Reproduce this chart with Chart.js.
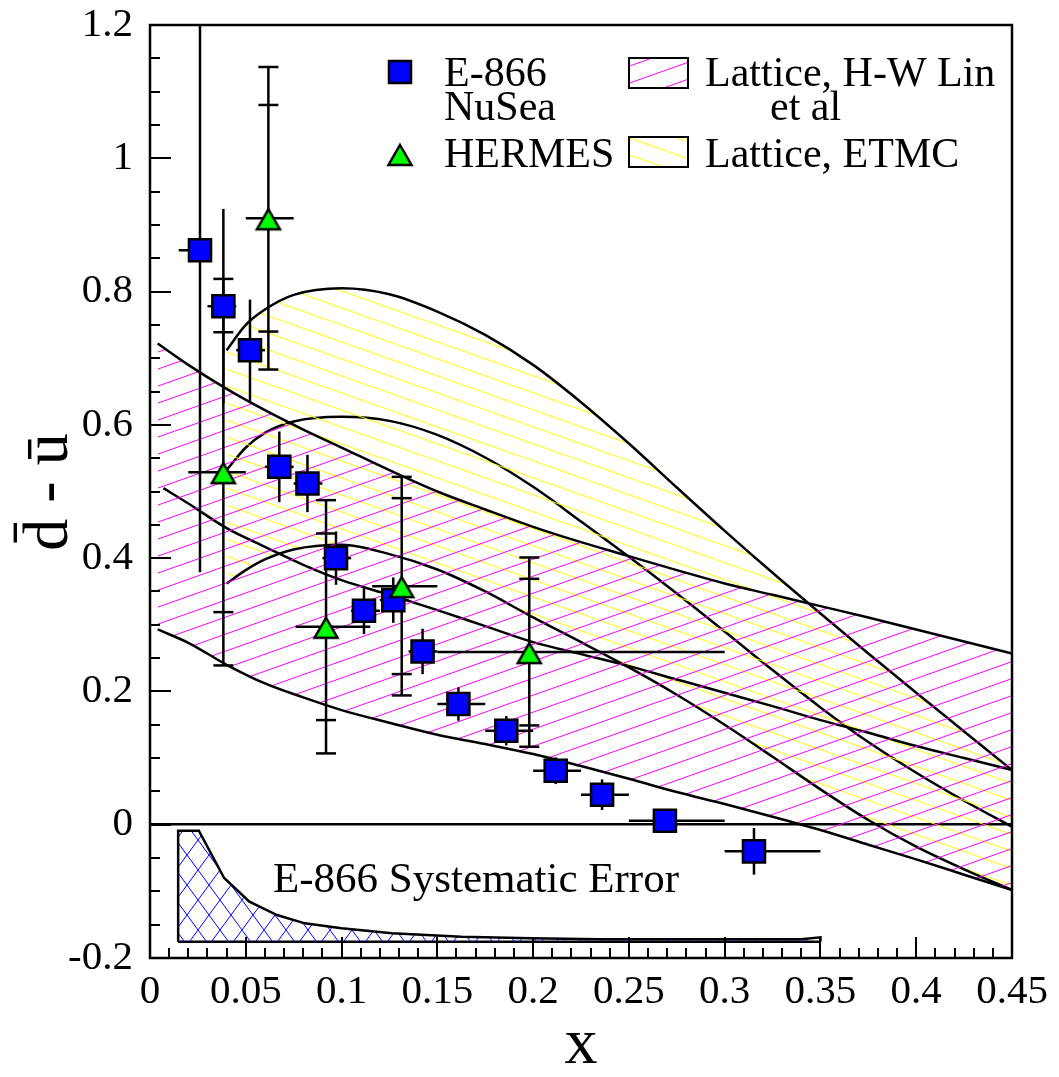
<!DOCTYPE html>
<html>
<head>
<meta charset="utf-8">
<script src="https://cdn.jsdelivr.net/npm/chart.js@4.4.1/dist/chart.umd.min.js"></script>
<style>
  html, body { margin: 0; padding: 0; background: #fff; }
  canvas { display: block; }
</style>
</head>
<body>
<canvas id="chart" width="1059" height="1077" style="width:1059px;height:1077px"></canvas>
<script>
// ---- data ----
// E-866 / NuSea points
const e866X   = [0.0261, 0.0383, 0.0522, 0.0675, 0.0822, 0.0971, 0.1117, 0.127, 0.1423, 0.161, 0.186, 0.2118, 0.236, 0.2688, 0.3153];
const e866Y   = [0.862, 0.778, 0.712, 0.537, 0.512, 0.400, 0.321, 0.337, 0.260, 0.181, 0.141, 0.081, 0.045, 0.006, -0.040];
const e866Err = [0.483, 0.146, 0.076, 0.053, 0.043, 0.040, 0.035, 0.034, 0.034, 0.025, 0.022, 0.020, 0.023, 0.017, 0.035];
const e866XLo = [0.015, 0.03, 0.045, 0.06, 0.075, 0.09, 0.105, 0.12, 0.135, 0.15, 0.175, 0.2, 0.225, 0.25, 0.3];
const e866XHi = [0.03, 0.045, 0.06, 0.075, 0.09, 0.105, 0.12, 0.135, 0.15, 0.175, 0.2, 0.225, 0.25, 0.3, 0.35];

// HERMES points (stat and total errors)
const hermesX    = [0.0383, 0.0618, 0.0919, 0.1314, 0.198];
const hermesY    = [0.529, 0.910, 0.297, 0.358, 0.259];
const hermesStat = [0.21, 0.17, 0.14, 0.132, 0.11];
const hermesTot  = [0.29, 0.227, 0.19, 0.164, 0.142];
const hermesXLo  = [0.02, 0.05, 0.076, 0.116, 0.15];
const hermesXHi  = [0.05, 0.075, 0.115, 0.15, 0.30];

// E-866 systematic error band
const sysX = [0.0147, 0.0147, 0.0255, 0.0387, 0.0519, 0.0663, 0.0808, 0.1, 0.1264, 0.1625, 0.1986, 0.2346, 0.283, 0.34, 0.35, 0.35];
const sysY = [-0.1755, -0.009, -0.009, -0.080, -0.1155, -0.1355, -0.148, -0.1555, -0.163, -0.168, -0.1705, -0.172, -0.172, -0.172, -0.169, -0.1755];
const sysBase = -0.1755;
const sysBaseX = [0.0147, 0.35];

// Lattice, H-W Lin et al band
const linX       = [0.004, 0.02, 0.04, 0.06, 0.08, 0.1, 0.125, 0.15, 0.175, 0.2, 0.225, 0.25, 0.275, 0.3, 0.325, 0.35, 0.375, 0.4, 0.425, 0.45];
const linLower   = [0.293, 0.273, 0.240, 0.212, 0.191, 0.172, 0.153, 0.135, 0.121, 0.106, 0.088, 0.069, 0.049, 0.031, 0.012, -0.008, -0.030, -0.052, -0.075, -0.098];
const linUpper   = [0.722, 0.690, 0.654, 0.622, 0.593, 0.566, 0.532, 0.500, 0.473, 0.447, 0.424, 0.403, 0.382, 0.362, 0.345, 0.328, 0.311, 0.293, 0.275, 0.257];
const linCenX    = [0.007, 0.02, 0.04, 0.06, 0.08, 0.1, 0.125, 0.15, 0.175, 0.2, 0.225, 0.25, 0.275, 0.3, 0.325, 0.35, 0.375, 0.4, 0.425, 0.45];
const linCentral = [0.505, 0.482, 0.445, 0.417, 0.390, 0.367, 0.345, 0.322, 0.298, 0.274, 0.256, 0.238, 0.218, 0.198, 0.178, 0.157, 0.138, 0.118, 0.100, 0.082];

// Lattice, ETMC band
const etmcX     = [0.04, 0.05, 0.06, 0.075, 0.1, 0.125, 0.15, 0.175, 0.2, 0.225, 0.25, 0.275, 0.3, 0.325, 0.35, 0.375, 0.4, 0.425, 0.45];
const etmcUpper = [0.712, 0.750, 0.773, 0.795, 0.805, 0.796, 0.770, 0.735, 0.690, 0.634, 0.572, 0.506, 0.441, 0.378, 0.317, 0.257, 0.198, 0.140, 0.082];
const etmcMid   = [0.532, 0.566, 0.588, 0.605, 0.612, 0.606, 0.585, 0.551, 0.507, 0.455, 0.402, 0.347, 0.290, 0.232, 0.176, 0.124, 0.078, 0.036, -0.003];
const etmcLower = [0.362, 0.382, 0.398, 0.413, 0.420, 0.406, 0.383, 0.350, 0.311, 0.274, 0.236, 0.195, 0.150, 0.102, 0.053, 0.007, -0.033, -0.067, -0.098];

const SERIF = "'Liberation Serif', 'Times New Roman', serif";
Chart.defaults.font.family = SERIF;
Chart.defaults.color = '#000';

const pts = (xs, ys) => xs.map((x, i) => ({ x: x, y: ys[i] }));
const fmt = v => String(+Number(v).toFixed(2));

// hatch patterns, tile repeats seamlessly
function hatch(color, w, h, dirs) {
  const c = document.createElement('canvas');
  c.width = w; c.height = h;
  const g = c.getContext('2d');
  g.strokeStyle = color;
  g.lineWidth = 1;
  dirs.forEach(d => {
    [-h, 0, h].forEach(oy => {
      g.beginPath();
      if (d === '/') { g.moveTo(0, h + oy); g.lineTo(w, oy); }
      else { g.moveTo(0, oy); g.lineTo(w, h + oy); }
      g.stroke();
    });
  });
  return g.createPattern(c, 'repeat');
}
const linPattern  = hatch('#ff00ff', 48, 17, ['/']);
const etmcPattern = hatch('#ffff00', 48, 17, ['\\']);
const sysPattern  = hatch('#0000ff', 22, 30, ['/', '\\']);

function triangleMarker() {
  const c = document.createElement('canvas');
  c.width = 32; c.height = 28;
  const g = c.getContext('2d');
  g.beginPath();
  g.moveTo(16, 5); g.lineTo(27.5, 25); g.lineTo(4.5, 25); g.closePath();
  g.fillStyle = '#00ff00'; g.fill();
  g.lineWidth = 2.5; g.strokeStyle = '#000'; g.stroke();
  return c;
}
const triMarker = triangleMarker();

function curve(data, extra) {
  return Object.assign({
    type: 'line', data: data, borderColor: '#000', borderWidth: 2.5,
    pointRadius: 0, fill: false, cubicInterpolationMode: 'monotone'
  }, extra || {});
}

function seg(ctx, x1, y1, x2, y2) {
  ctx.beginPath(); ctx.moveTo(x1, y1); ctx.lineTo(x2, y2); ctx.stroke();
}

function drawErrorBars(chart) {
  const { ctx, chartArea: a, scales: { x, y } } = chart;
  ctx.save();
  ctx.beginPath();
  ctx.rect(a.left, a.top, a.right - a.left, a.bottom - a.top);
  ctx.clip();
  ctx.strokeStyle = '#000';
  ctx.lineWidth = 2.5;
  e866X.forEach((xv, i) => {
    const px = x.getPixelForValue(xv), py = y.getPixelForValue(e866Y[i]);
    seg(ctx, px, y.getPixelForValue(e866Y[i] + e866Err[i]), px, y.getPixelForValue(e866Y[i] - e866Err[i]));
    seg(ctx, x.getPixelForValue(e866XLo[i]), py, x.getPixelForValue(e866XHi[i]), py);
  });
  const cap = 10;
  hermesX.forEach((xv, i) => {
    const px = x.getPixelForValue(xv), py = y.getPixelForValue(hermesY[i]);
    seg(ctx, px, y.getPixelForValue(hermesY[i] + hermesTot[i]), px, y.getPixelForValue(hermesY[i] - hermesTot[i]));
    [hermesStat[i], hermesTot[i], -hermesStat[i], -hermesTot[i]].forEach(e => {
      const cy = y.getPixelForValue(hermesY[i] + e);
      seg(ctx, px - cap, cy, px + cap, cy);
    });
    seg(ctx, x.getPixelForValue(hermesXLo[i]), py, x.getPixelForValue(hermesXHi[i]), py);
  });
  ctx.restore();
}

const decor = {
  id: 'decor',
  beforeDatasetDraw(chart, args) {
    // error bars go under the markers but over the curves
    if (args.index === 1) drawErrorBars(chart);
  },
  afterDraw(chart) {
    const { ctx, chartArea: a, scales: { x, y } } = chart;
    ctx.save();
    ctx.strokeStyle = '#000';

    // inward tick marks
    ctx.lineWidth = 2;
    const nx = Math.round((x.max - x.min) / 0.01);
    for (let k = 0; k <= nx; k++) {
      const px = Math.round(x.getPixelForValue(x.min + k * 0.01));
      seg(ctx, px, a.bottom, px, a.bottom - (k % 5 === 0 ? 21 : 10));
    }
    const ny = Math.round((y.max - y.min) / 0.05);
    for (let k = 0; k <= ny; k++) {
      const py = Math.round(y.getPixelForValue(y.min + k * 0.05));
      seg(ctx, a.left, py, a.left + (k % 4 === 0 ? 21 : 10), py);
    }

    // frame
    ctx.lineWidth = 2.5;
    ctx.strokeRect(a.left, a.top, a.right - a.left, a.bottom - a.top);

    // band label
    ctx.fillStyle = '#000';
    ctx.font = '43px ' + SERIF;
    ctx.textAlign = 'left';
    ctx.textBaseline = 'alphabetic';
    ctx.fillText('E-866 Systematic Error', x.getPixelForValue(0.0642), y.getPixelForValue(-0.1005));

    // legend
    ctx.font = '42px ' + SERIF;
    ctx.fillStyle = '#0000ff';
    ctx.fillRect(389, 61, 22, 22);
    ctx.lineWidth = 2.5;
    ctx.strokeRect(389, 61, 22, 22);
    ctx.drawImage(triMarker, 400 - triMarker.width / 2, 154 - triMarker.height / 2);
    ctx.fillStyle = linPattern;
    ctx.fillRect(629, 58, 59, 30);
    ctx.fillStyle = etmcPattern;
    ctx.fillRect(629, 137, 59, 30);
    ctx.lineWidth = 2;
    ctx.strokeRect(629, 58, 59, 30);
    ctx.strokeRect(629, 137, 59, 30);
    ctx.fillStyle = '#000';
    ctx.fillText('E-866', 444, 86);
    ctx.fillText('NuSea', 444, 120);
    ctx.fillText('HERMES', 444, 167);
    ctx.fillText('Lattice, H-W Lin', 705, 86);
    ctx.fillText('et al', 770, 120);
    ctx.fillText('Lattice, ETMC', 705, 167);

    // axis titles
    ctx.font = '66px ' + SERIF;
    ctx.textAlign = 'center';
    ctx.textBaseline = 'middle';
    ctx.fillText('x', 581, 1046);
    ctx.translate(50, 492);
    ctx.rotate(-Math.PI / 2);
    ctx.font = '64px ' + SERIF;
    ctx.fillText('d\u0304 - u\u0304', 0, 0);
    ctx.restore();
  }
};

new Chart(document.getElementById('chart').getContext('2d'), {
  type: 'line',
  data: {
    datasets: [
      { label: 'HERMES', data: pts(hermesX, hermesY), showLine: false,
        pointStyle: triMarker, pointRadius: 12 },
      { label: 'E-866 NuSea', data: pts(e866X, e866Y), showLine: false,
        pointStyle: 'rect', pointRadius: 15.6, pointBackgroundColor: '#0000ff',
        pointBorderColor: '#000', pointBorderWidth: 2.5 },
      curve(pts(sysX, sysY), { label: 'E-866 systematic', tension: 0, cubicInterpolationMode: 'default',
        backgroundColor: sysPattern, fill: { value: sysBase } }),
      curve(pts(sysBaseX, [sysBase, sysBase]), { label: 'sys base', cubicInterpolationMode: 'default' }),
      curve(pts(linX, linLower), { label: 'Lin lower' }),
      curve(pts(linX, linUpper), { label: 'Lattice, H-W Lin et al', backgroundColor: linPattern, fill: '-1' }),
      curve(pts(linCenX, linCentral), { label: 'Lin central' }),
      curve(pts(etmcX, etmcLower), { label: 'ETMC lower' }),
      curve(pts(etmcX, etmcUpper), { label: 'Lattice, ETMC', backgroundColor: etmcPattern, fill: '-1' }),
      curve(pts(etmcX, etmcMid), { label: 'ETMC central' })
    ]
  },
  options: {
    responsive: false,
    animation: false,
    events: [],
    layout: { padding: { top: 25, right: 47, left: 0, bottom: 0 } },
    plugins: {
      legend: { display: false },
      tooltip: { enabled: false }
    },
    scales: {
      x: {
        type: 'linear', min: 0, max: 0.45,
        afterFit: s => { s.height = 119; s.paddingLeft = 0; s.paddingRight = 0; },
        ticks: { stepSize: 0.05, padding: 4, maxRotation: 0, autoSkip: false,
                 font: { size: 41, lineHeight: 1.1 }, callback: fmt },
        grid: { display: false },
        border: { display: false }
      },
      y: {
        type: 'linear', min: -0.2, max: 1.2,
        afterFit: s => { s.width = 150; s.paddingTop = 0; s.paddingBottom = 0; },
        ticks: { stepSize: 0.2, padding: 17, font: { size: 41, lineHeight: 1.1 }, callback: fmt },
        grid: {
          drawTicks: false, lineWidth: 2.5,
          color: c => (c.tick && Math.abs(c.tick.value) < 1e-9) ? '#000' : 'rgba(0,0,0,0)'
        },
        border: { display: false }
      }
    }
  },
  plugins: [decor]
});
</script>
</body>
</html>
